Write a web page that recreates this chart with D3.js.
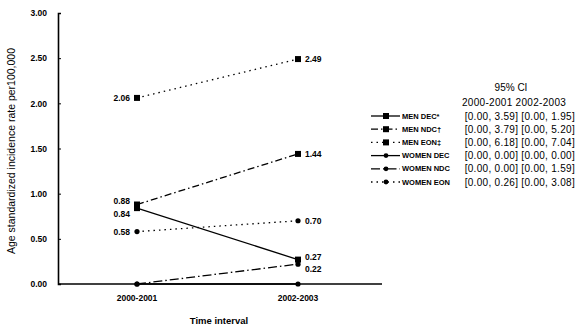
<!DOCTYPE html>
<html>
<head>
<meta charset="utf-8">
<script src="https://cdn.jsdelivr.net/npm/d3@7"></script>
<style>
  body { margin: 0; background: #fff; }
  text { font-family: "Liberation Sans", Arial, sans-serif; fill: #000; }
</style>
</head>
<body>
<div id="container"></div>
<script>
// Données
const periods = ["2000-2001", "2002-2003"];
const seriesNames = ["MEN DEC*", "MEN NDC\u2020", "MEN EON\u2021", "WOMEN DEC", "WOMEN NDC", "WOMEN EON"];
const menDEC = [0.84, 0.27];
const menNDC = [0.88, 1.44];
const menEON = [2.06, 2.49];
const womenDEC = [0.00, 0.00];
const womenNDC = [0.00, 0.22];
const womenEON = [0.58, 0.70];
const ci2000 = ["[0.00, 3.59]", "[0.00, 3.79]", "[0.00, 6.18]", "[0.00, 0.00]", "[0.00, 0.00]", "[0.00, 0.26]"];
const ci2002 = ["[0.00, 1.95]", "[0.00, 5.20]", "[0.00, 7.04]", "[0.00, 0.00]", "[0.00, 1.59]", "[0.00, 3.08]"];
const yTicks = [0, 0.5, 1, 1.5, 2, 2.5, 3];

const main = (container) => {
  const W = 577, H = 329;
  const svg = d3.select(container).append("svg")
    .attr("width", W).attr("height", H);

  // Échelles
  const x = d3.scalePoint().domain(periods).range([137, 298]);
  const y = d3.scaleLinear().domain([0, 3]).range([284, 13]);

  // Axe Y
  const yAxis = svg.append("g")
    .attr("transform", "translate(58,0)")
    .call(d3.axisLeft(y).tickValues(yTicks).tickFormat(d3.format(".2f")).tickSize(-3).tickPadding(11));
  yAxis.select(".domain").attr("stroke", "#000").attr("stroke-width", 1.6);
  yAxis.selectAll(".tick line").attr("stroke", "#000");
  yAxis.selectAll(".tick text")
    .style("font-size", "8.5px").style("font-weight", "bold").attr("fill", "#000");

  // Axe X
  svg.append("line")
    .attr("x1", 58).attr("x2", 382).attr("y1", y(0)).attr("y2", y(0))
    .attr("stroke", "#000").attr("stroke-width", 1.6);
  svg.selectAll(".xlab").data(periods).enter().append("text")
    .attr("x", d => x(d)).attr("y", 301)
    .attr("text-anchor", "middle")
    .style("font-size", "8.5px").style("font-weight", "bold")
    .text(d => d);

  svg.append("text")
    .attr("x", 219).attr("y", 324).attr("text-anchor", "middle")
    .style("font-size", "9.5px").style("font-weight", "bold")
    .text("Time interval");

  svg.append("text")
    .attr("transform", "translate(15,151) rotate(-90)")
    .attr("text-anchor", "middle")
    .style("font-size", "10.5px")
    .text("Age standardized incidence rate per100,000");

  // Séries
  const series = [
    { name: seriesNames[0], v: menDEC, dash: null, shape: "square", lbl: ["0.84", "0.27"], dy: [6, -3] },
    { name: seriesNames[1], v: menNDC, dash: "7,3,1.5,3", shape: "square", lbl: ["0.88", "1.44"], dy: [-3, 0] },
    { name: seriesNames[2], v: menEON, dash: "1.5,4", shape: "square", lbl: ["2.06", "2.49"], dy: [0, 0] },
    { name: seriesNames[3], v: womenDEC, dash: null, shape: "circle", lbl: null, dy: [0, 0] },
    { name: seriesNames[4], v: womenNDC, dash: "9,3,1.5,3", shape: "circle", lbl: [null, "0.22"], dy: [0, 5] },
    { name: seriesNames[5], v: womenEON, dash: "1.5,4", shape: "circle", lbl: ["0.58", "0.70"], dy: [0, 0] }
  ];

  const line = d3.line().x((d, i) => x(periods[i])).y(d => y(d));

  series.forEach(s => {
    svg.append("path")
      .datum(s.v)
      .attr("d", line)
      .attr("fill", "none")
      .attr("stroke", "#000")
      .attr("stroke-width", 1.3)
      .attr("stroke-dasharray", s.dash);

    s.v.forEach((val, i) => {
      const cx = x(periods[i]), cy = y(val);
      if (s.shape === "square") {
        svg.append("rect")
          .attr("x", cx - 3).attr("y", cy - 3).attr("width", 6).attr("height", 6)
          .attr("fill", "#000");
      } else {
        svg.append("circle").attr("cx", cx).attr("cy", cy).attr("r", 2.6).attr("fill", "#000");
      }
      if (s.lbl && s.lbl[i]) {
        svg.append("text")
          .attr("x", i === 0 ? cx - 7 : cx + 7)
          .attr("y", cy + s.dy[i])
          .attr("dy", "0.35em")
          .attr("text-anchor", i === 0 ? "end" : "start")
          .style("font-size", "8.5px").style("font-weight", "bold")
          .text(s.lbl[i]);
      }
    });
  });

  // Légende
  const lg = svg.append("g");
  lg.append("text").attr("x", 511).attr("y", 91).attr("text-anchor", "middle")
    .style("font-size", "10px").text("95% CI");
  lg.append("text").attr("x", 462).attr("y", 106)
    .style("font-size", "10px").style("letter-spacing", "0.3px")
    .text(periods[0] + " " + periods[1]);

  const rows = lg.selectAll(".row").data(series).enter().append("g")
    .attr("transform", (d, i) => `translate(0,${116 + i * 13.2})`);
  rows.append("line")
    .attr("x1", 371).attr("x2", 400).attr("y1", 0).attr("y2", 0)
    .attr("stroke", "#000").attr("stroke-width", 1.3)
    .attr("stroke-dasharray", d => d.dash);
  rows.each(function (d) {
    const g = d3.select(this);
    if (d.shape === "square") {
      g.append("rect").attr("x", 383).attr("y", -3).attr("width", 6).attr("height", 6).attr("fill", "#000");
    } else {
      g.append("circle").attr("cx", 386).attr("cy", 0).attr("r", 2.4).attr("fill", "#000");
    }
  });
  rows.append("text").attr("x", 402).attr("y", 0).attr("dy", "0.35em")
    .style("font-size", "7.5px").style("font-weight", "bold")
    .text(d => d.name);
  rows.append("text").attr("x", 575).attr("y", 0).attr("dy", "0.35em")
    .attr("text-anchor", "end")
    .style("font-size", "10px").style("letter-spacing", "0.3px")
    .text((d, i) => ci2000[i] + " " + ci2002[i]);
};

main(document.getElementById("container"));
</script>
</body>
</html>
